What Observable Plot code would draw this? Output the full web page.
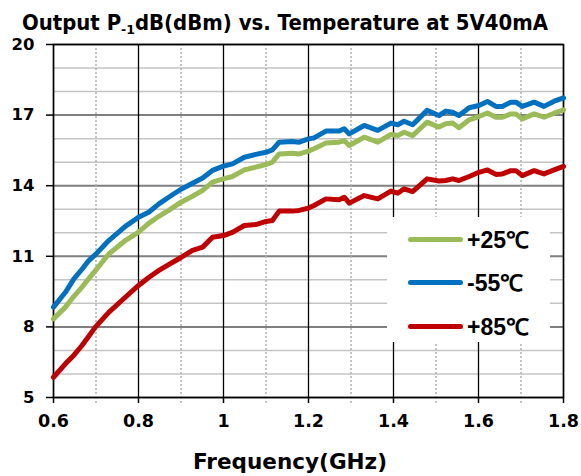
<!DOCTYPE html>
<html><head><meta charset="utf-8">
<script src="https://cdn.jsdelivr.net/npm/d3@7"></script>
<script src="https://cdn.jsdelivr.net/npm/@observablehq/plot@0.6"></script>
<style>
body{margin:0;background:#fff;}
#wrap{position:relative;width:581px;height:476px;overflow:hidden;}
#legend{position:absolute;left:387px;top:217px;width:163px;height:125px;background:#fff;}
.item{position:absolute;left:0;height:30px;width:163px;}
.swatch{position:absolute;left:21px;top:12px;width:55px;height:5px;border-radius:3px;}
.lab{position:absolute;left:80px;top:0;line-height:30px;font-family:"Liberation Sans",Arial,sans-serif;font-weight:bold;font-size:23px;color:#000;white-space:nowrap;}
</style></head>
<body><div id="wrap"></div>
<script>
const freq = [0.600,0.628,0.648,0.667,0.683,0.699,0.730,0.769,0.800,0.824,0.848,0.871,0.900,0.927,0.951,0.974,1.000,1.021,1.049,1.076,1.100,1.115,1.131,1.162,1.178,1.200,1.213,1.241,1.272,1.284,1.296,1.331,1.363,1.394,1.410,1.425,1.445,1.479,1.507,1.523,1.539,1.554,1.578,1.601,1.621,1.641,1.656,1.676,1.688,1.703,1.731,1.754,1.778,1.800];
const p25 = [8.34,8.84,9.30,9.69,10.05,10.40,11.10,11.67,12.03,12.40,12.70,12.95,13.30,13.55,13.80,14.15,14.29,14.39,14.67,14.79,14.90,15.00,15.35,15.38,15.35,15.47,15.57,15.81,15.85,15.92,15.71,16.06,15.85,16.18,16.13,16.27,16.13,16.70,16.49,16.63,16.66,16.46,16.80,16.94,17.09,16.91,16.91,17.05,17.05,16.84,17.05,16.91,17.08,17.22];
const m55 = [8.84,9.47,10.04,10.45,10.82,11.08,11.67,12.27,12.66,12.87,13.23,13.51,13.85,14.10,14.33,14.65,14.83,14.93,15.21,15.33,15.42,15.52,15.85,15.88,15.85,15.99,16.03,16.32,16.32,16.42,16.20,16.56,16.35,16.66,16.59,16.74,16.59,17.20,16.98,17.17,17.12,16.98,17.31,17.41,17.58,17.37,17.37,17.55,17.55,17.37,17.55,17.37,17.59,17.73];
const p85 = [5.86,6.43,6.80,7.21,7.60,8.00,8.62,9.26,9.76,10.10,10.40,10.65,10.95,11.25,11.39,11.81,11.88,12.02,12.31,12.35,12.48,12.52,12.92,12.92,12.95,13.05,13.16,13.44,13.40,13.51,13.26,13.58,13.44,13.77,13.68,13.87,13.75,14.29,14.20,14.22,14.29,14.22,14.39,14.57,14.67,14.48,14.50,14.64,14.64,14.43,14.64,14.50,14.67,14.82];
const seriesNames = ["+25℃","-55℃","+85℃"];
const seriesColors = ["#9BBB59","#0070C0","#C00000"];
const yTicks = [5,8,11,14,17,20];
const yMinor = [6,7,9,10,12,13,15,16,18,19];
const xTicks = [0.6,0.8,1.0,1.2,1.4,1.6,1.8];
const xMinor = [0.7,0.9,1.1,1.3,1.5,1.7];
const titleMain = "Output P";
const titleSub = "-1";
const titleRest = "dB(dBm) vs. Temperature at 5V40mA";
const xLabel = "Frequency(GHz)";

const seriesValues = [p25, m55, p85];
const rows = [];
seriesNames.forEach((s, i) => freq.forEach((f, j) => rows.push({f, v: seriesValues[i][j], s})));

const bold = "'DejaVu Sans', Verdana, sans-serif";
const chart = Plot.plot({
  width: 581, height: 476,
  marginTop: 44, marginLeft: 53, marginRight: 18, marginBottom: 79,
  x: {domain: [0.6, 1.8]},
  y: {domain: [5, 20]},
  color: {domain: seriesNames, range: seriesColors},
  style: {fontFamily: bold, background: "white", color: "black"},
  marks: [
    Plot.ruleY(yMinor, {stroke: "#c4c4c4", strokeWidth: 1.5}),
    Plot.ruleY(yTicks, {stroke: "#7f7f7f", strokeWidth: 2}),
    Plot.ruleX(xMinor, {stroke: "#b0b0b0", strokeWidth: 1.5, strokeDasharray: "2,2"}),
    Plot.ruleX(xTicks, {stroke: "#000", strokeWidth: 1.3}),
    Plot.axisX({ticks: xMinor, tickSize: 6, tickFormat: () => "", stroke: "#b0b0b0", strokeWidth: 1.5, strokeDasharray: "2,2", label: null}),
    Plot.axisY({ticks: yTicks, tickSize: 7, tickPadding: 12, tickFormat: d => String(d), fontSize: 16.5, fontWeight: "bold", label: null, strokeWidth: 1.5}),
    Plot.axisX({ticks: xTicks, tickSize: 6, tickPadding: 11, tickFormat: d => String(+d.toFixed(1)), fontSize: 17.5, fontWeight: "bold", label: null, strokeWidth: 1.5}),
    Plot.frame({stroke: "#000", strokeWidth: 1.5}),
    Plot.line(rows, {x: "f", y: "v", z: "s", stroke: "s", strokeWidth: 5, strokeLinejoin: "round", strokeLinecap: "round"})
  ]
});
document.getElementById("wrap").appendChild(chart);

const svg = d3.select(chart);
const t = svg.append("text").attr("x", 22).attr("y", 30).attr("text-anchor", "start")
  .attr("font-family", bold).attr("font-weight", "bold").attr("font-size", 20.5).attr("fill", "#000")
  .attr("textLength", 526).attr("lengthAdjust", "spacingAndGlyphs");
t.append("tspan").text(titleMain);
t.append("tspan").attr("font-size", 13).attr("dy", 4).text(titleSub);
t.append("tspan").attr("dy", -4).text(titleRest);
svg.append("text").attr("x", 193).attr("y", 469).attr("text-anchor", "start")
  .attr("font-family", bold).attr("font-weight", "bold").attr("font-size", 22).attr("fill", "#000")
  .attr("textLength", 194).attr("lengthAdjust", "spacingAndGlyphs").text(xLabel);

// legend overlay
const legend = d3.select("#wrap").append("div").attr("id", "legend");
const tops = [8, 51, 95];
seriesNames.forEach((s, i) => {
  const it = legend.append("div").attr("class", "item").style("top", tops[i] + "px");
  it.append("div").attr("class", "swatch").style("background", seriesColors[i]);
  it.append("div").attr("class", "lab").text(s);
});
</script>
</body></html>
